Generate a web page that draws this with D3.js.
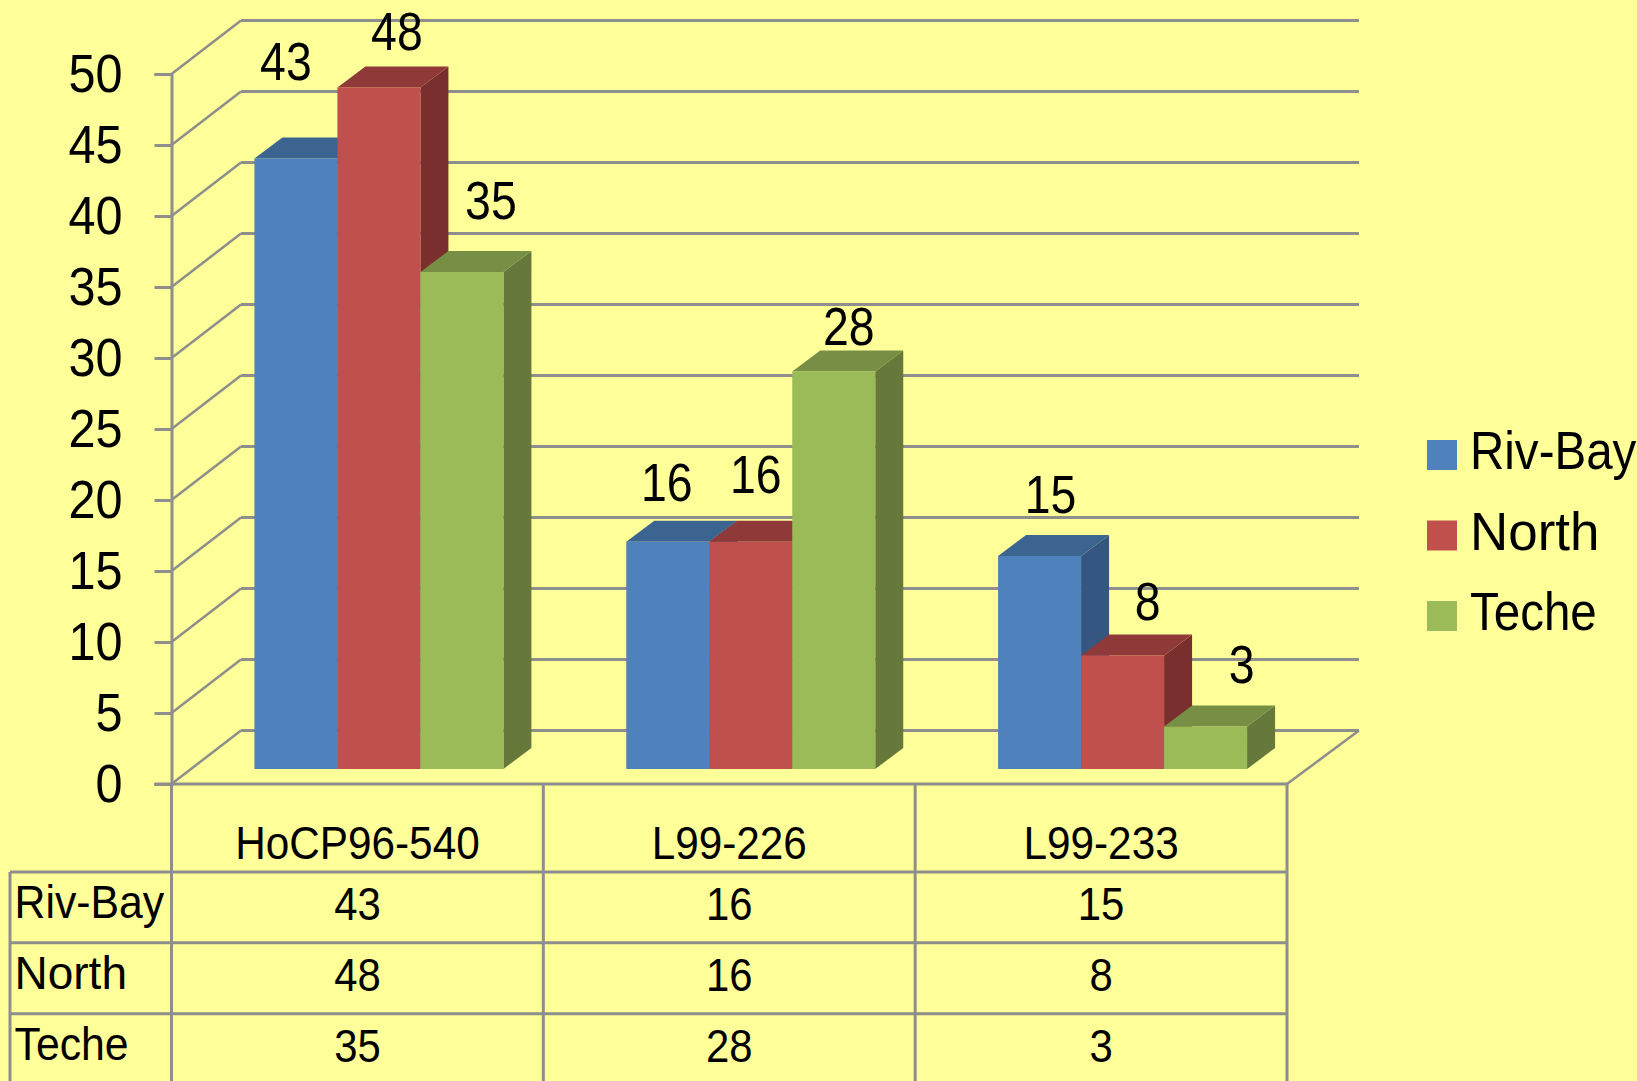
<!DOCTYPE html>
<html>
<head>
<meta charset="utf-8">
<script src="https://cdn.jsdelivr.net/npm/d3@7"></script>
<style>
  html, body { margin: 0; padding: 0; background: #ffff99; overflow: hidden; }
  text { font-family: "Liberation Sans", sans-serif; fill: #000; }
</style>
</head>
<body>
<div id="chart-area"></div>
<script>
// chart data
const categories = ['HoCP96-540', 'L99-226', 'L99-233'];
const seriesNames = ['Riv-Bay', 'North', 'Teche'];
const rivBay = [43, 16, 15];
const north = [48, 16, 8];
const teche = [35, 28, 3];
const yTicks = [0, 5, 10, 15, 20, 25, 30, 35, 40, 45, 50];

const seriesValues = [rivBay, north, teche];

const width = 1637, height = 1081;
const gridColor = '#8e8e8c';
const faces = [
  { front: '#4f81bd', top: '#3b6491', side: '#345680' },
  { front: '#c0504d', top: '#8f3a38', side: '#782f2d' },
  { front: '#9bbb59', top: '#778f44', side: '#66793a' }
];

// layout of the fake 3d box
const left = 171.5, right = 1287, base = 784, top50 = 74;
const backRight = 1359;
const wall = { dx: 69.5, dy: -53.5 };
const floor = { dx: 21.5, dy: -15 };
const depth = { dx: 28, dy: -21 };
const tableLeft = 10;

// hand placed data labels, one per bar (offset from bar centre / bar top)
const labelNudge = [
  [[-10, -78], [18, -37], [29, -53]],
  [[-1, -41], [5, -49], [15, -26]],
  [[11, -43], [25, -35], [36, -43]]
];

// no condensed font here, so squeeze the regular one sideways
const squeeze = (sel, x, y, k) => sel
  .attr('x', 0)
  .attr('y', 0)
  .attr('dy', 0)
  .attr('transform', `translate(${x}, ${y}) scale(${k}, 1)`);

// "North" sits wider than the other two names in the original
const nameSqueeze = { 'Riv-Bay': 0.93, North: 1.0, Teche: 0.93 };
const legendSqueeze = { 'Riv-Bay': 0.88, North: 0.98, Teche: 0.88 };

const svg = d3.select('#chart-area')
  .append('svg')
  .attr('width', width)
  .attr('height', height)
  .style('display', 'block');

svg.append('rect')
  .attr('width', width)
  .attr('height', height)
  .attr('fill', '#ffff99');

const y = d3.scaleLinear().domain([0, 50]).range([base, top50]);
const x = d3.scaleBand().domain(categories).range([left, right]);
const xInner = d3.scaleBand()
  .domain(seriesNames)
  .range([0, x.bandwidth()])
  .paddingInner(0)
  .paddingOuter(0.74);
const rows = d3.scaleBand()
  .domain(seriesNames)
  .range([872, 1084.5]);

// back wall grid and side wall diagonals
const grid = svg.append('g')
  .attr('fill', 'none')
  .attr('stroke', gridColor)
  .attr('stroke-width', 3);

grid.selectAll('.back')
  .data(yTicks)
  .enter()
  .append('line')
  .attr('class', 'back')
  .attr('x1', left + wall.dx)
  .attr('x2', backRight)
  .attr('y1', d => y(d) + wall.dy)
  .attr('y2', d => y(d) + wall.dy);

grid.selectAll('.diag')
  .data(yTicks)
  .enter()
  .append('line')
  .attr('class', 'diag')
  .attr('stroke-width', 2.5)
  .attr('x1', left)
  .attr('x2', left + wall.dx)
  .attr('y1', d => y(d))
  .attr('y2', d => y(d) + wall.dy);

grid.append('line')
  .attr('stroke-width', 2.5)
  .attr('x1', right)
  .attr('x2', backRight)
  .attr('y1', y(0))
  .attr('y2', y(0) + wall.dy);

// y axis
const yAxisCall = d3.axisLeft(y)
  .tickValues(yTicks)
  .tickSize(17);
const yAxis = svg.append('g')
  .attr('class', 'y axis')
  .attr('transform', `translate(${left}, 0)`)
  .call(yAxisCall);
yAxis.select('.domain').attr('stroke', gridColor).attr('stroke-width', 3);
yAxis.selectAll('.tick line').attr('stroke', gridColor).attr('stroke-width', 3);
yAxis.selectAll('text')
  .attr('font-size', 54)
  .call(squeeze, -49, 17.5, 0.9);

// bars
const poly = pts => pts.map(p => p.join(',')).join(' ');

categories.forEach((cat, c) => {
  const group = svg.append('g').attr('class', 'bars');
  seriesNames.forEach((name, s) => {
    const v = seriesValues[s][c];
    const x0 = x(cat) + xInner(name) + floor.dx;
    const x1 = x0 + xInner.bandwidth();
    const y0 = y(0) + floor.dy;
    const y1 = y(v) + floor.dy;
    group.append('polygon')
      .attr('points', poly([[x1, y1], [x1 + depth.dx, y1 + depth.dy], [x1 + depth.dx, y0 + depth.dy], [x1, y0]]))
      .attr('fill', faces[s].side);
    group.append('polygon')
      .attr('points', poly([[x0, y1], [x0 + depth.dx, y1 + depth.dy], [x1 + depth.dx, y1 + depth.dy], [x1, y1]]))
      .attr('fill', faces[s].top);
    group.append('rect')
      .attr('x', x0)
      .attr('y', y1)
      .attr('width', x1 - x0)
      .attr('height', y0 - y1)
      .attr('fill', faces[s].front);
  });
});

// data labels on top of everything
categories.forEach((cat, c) => {
  seriesNames.forEach((name, s) => {
    const v = seriesValues[s][c];
    const nudge = labelNudge[c][s];
    svg.append('text')
      .attr('class', 'data-label')
      .attr('text-anchor', 'middle')
      .attr('font-size', 54)
      .text(v)
      .call(squeeze,
        x(cat) + xInner(name) + floor.dx + xInner.bandwidth() / 2 + nudge[0],
        y(v) + floor.dy + nudge[1],
        0.86);
  });
});

// data table lines
const table = svg.append('g')
  .attr('stroke', gridColor)
  .attr('stroke-width', 3);

table.append('line')
  .attr('x1', left - 17).attr('x2', right)
  .attr('y1', y(0)).attr('y2', y(0));

table.selectAll('.col')
  .data([left, x(categories[1]), x(categories[2]), right])
  .enter()
  .append('line')
  .attr('class', 'col')
  .attr('x1', d => d).attr('x2', d => d)
  .attr('y1', y(0)).attr('y2', height);

table.selectAll('.row')
  .data(seriesNames)
  .enter()
  .append('line')
  .attr('class', 'row')
  .attr('x1', tableLeft).attr('x2', right)
  .attr('y1', d => rows(d)).attr('y2', d => rows(d));

table.append('line')
  .attr('x1', tableLeft).attr('x2', tableLeft)
  .attr('y1', rows(seriesNames[0])).attr('y2', height);

// category labels
categories.forEach(cat => {
  svg.append('text')
    .attr('class', 'cat-label')
    .attr('text-anchor', 'middle')
    .attr('font-size', 47)
    .text(cat)
    .call(squeeze, x(cat) + x.bandwidth() / 2, 859, 0.9);
});

// table text
seriesNames.forEach((name, s) => {
  svg.append('text')
    .attr('font-size', 46)
    .text(name)
    .call(squeeze, 14.5, rows(name) + 46, nameSqueeze[name]);
  categories.forEach((cat, c) => {
    svg.append('text')
      .attr('text-anchor', 'middle')
      .attr('font-size', 46)
      .text(seriesValues[s][c])
      .call(squeeze, x(cat) + x.bandwidth() / 2, rows(name) + 48, 0.91);
  });
});

// legend
const legendY = d3.scalePoint().domain(seriesNames).range([440, 601]);
const legend = svg.selectAll('.legend')
  .data(seriesNames)
  .enter()
  .append('g')
  .attr('class', 'legend')
  .attr('transform', d => `translate(1427, ${legendY(d)})`);
legend.append('rect')
  .attr('width', 30)
  .attr('height', 30)
  .attr('fill', (d, i) => faces[i].front);
legend.append('text')
  .attr('font-size', 54)
  .text(d => d)
  .each(function (d) { squeeze(d3.select(this), 43, 29, legendSqueeze[d]); });
</script>
</body>
</html>
